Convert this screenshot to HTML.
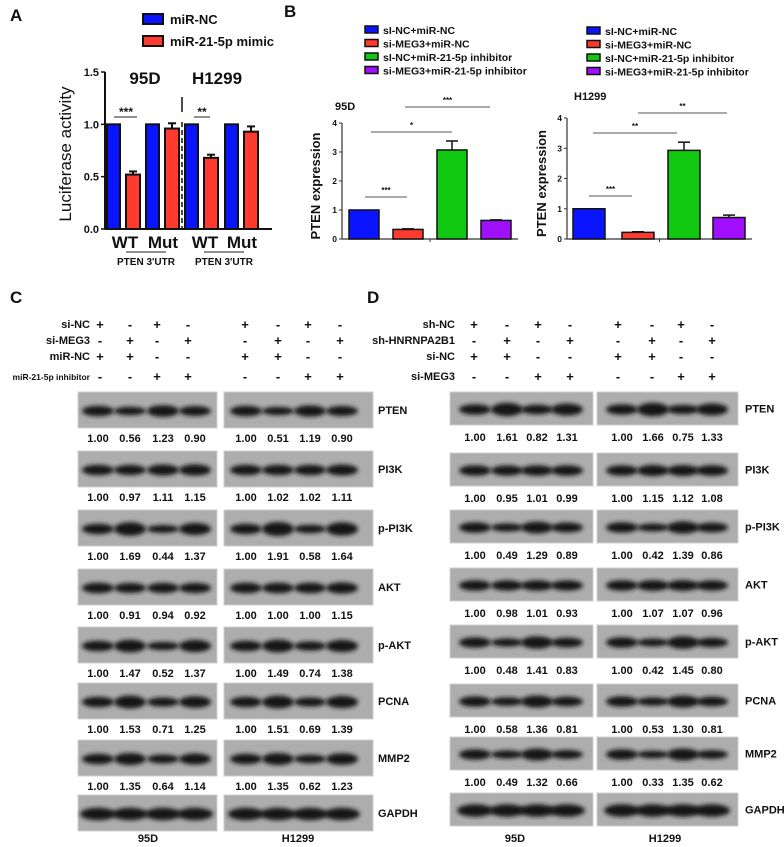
<!DOCTYPE html>
<html><head><meta charset="utf-8"><style>
html,body{margin:0;padding:0;background:#fff;}
svg{display:block;font-family:"Liberation Sans",Arial,sans-serif;}
.b{font-weight:bold;}
</style></head><body>
<svg id="fig" width="784" height="847" viewBox="0 0 784 847">
<defs>
<filter id="blur" x="-30%" y="-80%" width="160%" height="260%"><feGaussianBlur stdDeviation="2.0"/></filter>
</defs>
<g id="panelA"></g>
<g id="panelB"></g>
<g id="panelC"></g>
<g id="panelD"></g>
</svg>
<script>
// ---------- Panel A data ----------
const aGroups = ["95D WT","95D Mut","H1299 WT","H1299 Mut"];
const aNC = [1.0, 1.0, 1.0, 1.0];
const aMimic = [0.52, 0.96, 0.68, 0.93];
const aMimicErr = [0.03, 0.05, 0.03, 0.05];
const aNCErr = [0, 0, 0, 0];
const aTicks = [0.0, 0.5, 1.0, 1.5];
const aTickLabels = ["0.0","0.5","1.0","1.5"];

// ---------- Panel B data ----------
const bSeries = ["sI-NC+miR-NC","si-MEG3+miR-NC","sI-NC+miR-21-5p inhibitor","si-MEG3+miR-21-5p inhibitor"];
const b95D = [1.0, 0.33, 3.07, 0.64];
const b95DErr = [0, 0.02, 0.31, 0.02];
const bH1299 = [1.0, 0.22, 2.93, 0.71];
const bH1299Err = [0, 0.02, 0.27, 0.08];
const bTicks = [0,1,2,3,4];
const bTickLabels = ["0","1","2","3","4"];

// ---------- Panel C / D densitometry ----------
const proteins = ["PTEN","PI3K","p-PI3K","AKT","p-AKT","PCNA","MMP2","GAPDH"];
const c95D = [[1.00,0.56,1.23,0.90],[1.00,0.97,1.11,1.15],[1.00,1.69,0.44,1.37],[1.00,0.91,0.94,0.92],[1.00,1.47,0.52,1.37],[1.00,1.53,0.71,1.25],[1.00,1.35,0.64,1.14],[1,1,1,1]];
const cH1299 = [[1.00,0.51,1.19,0.90],[1.00,1.02,1.02,1.11],[1.00,1.91,0.58,1.64],[1.00,1.00,1.00,1.15],[1.00,1.49,0.74,1.38],[1.00,1.51,0.69,1.39],[1.00,1.35,0.62,1.23],[1,1,1,1]];
const d95D = [[1.00,1.61,0.82,1.31],[1.00,0.95,1.01,0.99],[1.00,0.49,1.29,0.89],[1.00,0.98,1.01,0.93],[1.00,0.48,1.41,0.83],[1.00,0.58,1.36,0.81],[1.00,0.49,1.32,0.66],[1,1,1,1]];
const dH1299 = [[1.00,1.66,0.75,1.33],[1.00,1.15,1.12,1.08],[1.00,0.42,1.39,0.86],[1.00,1.07,1.07,0.96],[1.00,0.42,1.45,0.80],[1.00,0.53,1.30,0.81],[1.00,0.33,1.35,0.62],[1,1,1,1]];
const cRowLabels = ["si-NC","si-MEG3","miR-NC","miR-21-5p inhibitor"];
const cSigns = [["+","-","+","-"],["-","+","-","+"],["+","+","-","-"],["-","-","+","+"]];
const dRowLabels = ["sh-NC","sh-HNRNPA2B1","si-NC","si-MEG3"];
const dSigns = [["+","-","+","-"],["-","+","-","+"],["+","+","-","-"],["-","-","+","+"]];

const NS="http://www.w3.org/2000/svg";
function mk(parent, tag, attrs, text){
  const e=document.createElementNS(NS,tag);
  for(const k in attrs) e.setAttribute(k,attrs[k]);
  if(text!==undefined) e.textContent=text;
  parent.appendChild(e); return e;
}
function txt(parent,x,y,s,size,opts){
  opts=opts||{};
  const t=mk(parent,"text",{x:x,y:y,"font-size":size,"text-anchor":opts.anchor||"start","font-weight":opts.bold===false?"normal":"bold",fill:"#111"},s);
  if(opts.rot) t.setAttribute("transform","rotate(-90 "+x+" "+y+")");
  return t;
}

// ================= PANEL A =================
(function(){
  const g=document.getElementById("panelA");
  let t=txt(g,10,21,"A",17);
  
  
  const leg=[["miR-NC","#0a14ff"],["miR-21-5p mimic","#ff3b2f"]];
  leg.forEach((l,i)=>{
    const r=mk(g,"rect",{x:143,y:14+i*22,width:20,height:10,fill:l[1],stroke:"#111","stroke-width":2});
    
    
    const tt=txt(g,170,24+i*22,l[0],13);
    
    
  });
  const x0=105, x1=272, yTop=72, yBot=229;
  const y=v=>yBot-(v/1.5)*(yBot-yTop);
  mk(g,"line",{x1:x0,y1:yTop,x2:x0,y2:yBot,stroke:"#111","stroke-width":2});
  mk(g,"line",{x1:x0,y1:yBot,x2:x1,y2:yBot,stroke:"#111","stroke-width":2});
  aTicks.forEach((v,i)=>{
    mk(g,"line",{x1:x0-4,y1:y(v),x2:x0,y2:y(v),stroke:"#111","stroke-width":1.5});
    const tl=txt(g,x0-6,y(v)+4,aTickLabels[i],11,{anchor:"end"});
    
    
  });
  const yt=txt(g,71,154,"Luciferase activity",17,{anchor:"middle",rot:true,bold:false});
  
  
  const groupX=[107,146,185,225];
  aGroups.forEach((name,i)=>{
    const bx=groupX[i];
    const b1=mk(g,"rect",{x:bx,y:y(aNC[i]),width:13,height:yBot-y(aNC[i]),fill:"#0a14ff",stroke:"#111","stroke-width":2});
    
    
    const rx=bx+19;
    const b2=mk(g,"rect",{x:rx,y:y(aMimic[i]),width:14,height:yBot-y(aMimic[i]),fill:"#ff3b2f",stroke:"#111","stroke-width":2});
    
    
    const ey=y(aMimic[i]+aMimicErr[i]);
    mk(g,"line",{x1:rx+7,y1:ey,x2:rx+7,y2:y(aMimic[i]),stroke:"#111","stroke-width":2});
    mk(g,"line",{x1:rx+3,y1:ey,x2:rx+11,y2:ey,stroke:"#111","stroke-width":2});
  });
  mk(g,"line",{x1:182,y1:97,x2:182,y2:112,stroke:"#111","stroke-width":1.5});
  mk(g,"line",{x1:182,y1:122,x2:182,y2:229,stroke:"#111","stroke-width":1.5,"stroke-dasharray":"5,3"});
  txt(g,145,84,"95D",17,{anchor:"middle"});
  txt(g,217,84,"H1299",17,{anchor:"middle"});
  mk(g,"line",{x1:114,y1:117,x2:137,y2:117,stroke:"#222","stroke-width":1});
  txt(g,126,116,"***",12,{anchor:"middle"});
  mk(g,"line",{x1:194,y1:117,x2:210,y2:117,stroke:"#222","stroke-width":1});
  txt(g,202,116,"**",12,{anchor:"middle"});
  [[125,163,146,"PTEN 3'UTR"],[205,242,224,"PTEN 3'UTR"]].forEach(a=>{
    txt(g,a[0],248,"WT",17,{anchor:"middle"});
    txt(g,a[1],248,"Mut",17,{anchor:"middle"});
    mk(g,"line",{x1:a[2]-20,y1:252,x2:a[2]+20,y2:252,stroke:"#222","stroke-width":1});
    txt(g,a[2],265,a[3],10,{anchor:"middle"});
  });
})();

// ================= PANEL B =================
(function(){
  const g=document.getElementById("panelB");
  const t=txt(g,284,17,"B",17);
  
  
  const cols=["#0a14ff","#ff3b2f","#10c810","#a010ff"];
  function legend(sx,sy){
    bSeries.forEach((s,i)=>{
      const r=mk(g,"rect",{x:sx,y:sy+i*13.5-4,width:13,height:7,fill:cols[i],stroke:"#111","stroke-width":1.5});
      
      
      const tt=txt(g,sx+18,sy+i*13.5+4,s,10.5);
      
      
    });
  }
  legend(365,30); legend(587,31);
  function chart(x0,x1,yTop,yBot,vals,errs,barX,bw,title,tx,ty,sig,ytx){
    const y=v=>yBot-(v/4)*(yBot-yTop);
    mk(g,"line",{x1:x0,y1:yTop,x2:x0,y2:yBot,stroke:"#333","stroke-width":1.2});
    mk(g,"line",{x1:x0,y1:yBot,x2:x1,y2:yBot,stroke:"#333","stroke-width":1.2});
    mk(g,"line",{x1:(x0+x1)/2,y1:yBot,x2:(x0+x1)/2,y2:yBot+3,stroke:"#333","stroke-width":1});
    bTicks.forEach((v,i)=>{
      mk(g,"line",{x1:x0-3,y1:y(v),x2:x0,y2:y(v),stroke:"#333","stroke-width":1});
      const tl=txt(g,x0-5,y(v)+3,bTickLabels[i],8.5,{anchor:"end"});
      
      
    });
    const yt=txt(g,ytx,(yTop+yBot)/2+5,"PTEN expression",13,{anchor:"middle",rot:true});
    
    
    vals.forEach((v,i)=>{
      const bx=barX[i];
      const r=mk(g,"rect",{x:bx,y:y(v),width:bw,height:yBot-y(v),fill:cols[i],stroke:"#111","stroke-width":1.5});
      
      
      if(errs[i]>0){
        const ey=y(v+errs[i]);
        mk(g,"line",{x1:bx+bw/2,y1:ey,x2:bx+bw/2,y2:y(v),stroke:"#111","stroke-width":1.5});
        mk(g,"line",{x1:bx+bw/2-6,y1:ey,x2:bx+bw/2+6,y2:ey,stroke:"#111","stroke-width":1.5});
      }
    });
    const tt=txt(g,tx,ty,title,11);
    
    
    sig.forEach(s=>{
      mk(g,"line",{x1:s[0],y1:s[2],x2:s[1],y2:s[2],stroke:"#555","stroke-width":1});
      txt(g,(s[0]+s[1])/2,s[2]-4,s[3],8,{anchor:"middle"});
    });
  }
  chart(342,518,123,239,b95D,b95DErr,[349,393,437,481],30,"95D",335,110,
    [[365,407,197,"***"],[371,452,132,"*"],[405,490,107,"***"]],320);
  chart(567,752,118,239,bH1299,bH1299Err,[573,622,668,713],32,"H1299",574,100,
    [[589,632,196,"***"],[593,677,133,"**"],[638,727,113,"**"]],546);
})();

// ================= BLOTS =================
function blotPanel(g,letter,lx,rowLabels,signs,labelX,signCols,blots,rows,rowH,numOffset,labelXR,bottomLabels,headerY){
  const t=txt(g,lx,303,letter,17);
  
  
  rowLabels.forEach((lab,r)=>{
    const rl=txt(g,labelX,headerY[r],lab,lab.indexOf("inhibitor")>=0?8.5:11,{anchor:"end"});
    
    
    signCols.forEach(cols=>{
      cols.forEach((cx,i)=>{
        txt(g,cx,headerY[r]+1,signs[r][i],13,{anchor:"middle"});
      });
    });
  });
  blots.forEach(bl=>{
    proteins.forEach((p,ri)=>{
      const top=rows[ri];
      const bg=mk(g,"rect",{x:bl.x,y:top,width:bl.w,height:rowH,fill:"#adadad",stroke:"#cfcfcf","stroke-width":1});
      
      
      bl.cols.forEach((cx,i)=>{
        const v=bl.vals[ri][i];
        const h=Math.max(5,Math.min(14,4.5*v+(p==="GAPDH"?8:6)));
        const w=p==="GAPDH"?36:32;
        const band=mk(g,"ellipse",{cx:cx,cy:top+rowH/2+1,rx:w/2,ry:h/2,fill:"#141414",filter:"url(#blur)"});
        
        
      });
      if(ri<proteins.length-1){
        bl.cols.forEach((cx,i)=>{
          const n=txt(g,cx,top+numOffset,bl.vals[ri][i].toFixed(2),11,{anchor:"middle"});
          
          
        });
      }
    });
  });
  proteins.forEach((p,ri)=>{
    const pl=txt(g,labelXR,rows[ri]+rowH/2+4,p,11);
    
    
  });
  bottomLabels.forEach(b=>{
    const bl=txt(g,b[0],842,b[1],11,{anchor:"middle"});
    
    
  });
}
(function(){
  const g=document.getElementById("panelC");
  const lc=[98,130,163,195], rc=[246,278,310,342];
  blotPanel(g,"C",10,cRowLabels,cSigns,90,[[100,130,157,188],[245,278,308,340]],
    [{x:78,w:139,cols:lc,vals:c95D},{x:224,w:149,cols:rc,vals:cH1299}],
    [392,451,510,569,627,683,740,795],36,50,378,[[148,"95D"],[298,"H1299"]],[328,344,360,380]);
})();
(function(){
  const g=document.getElementById("panelD");
  const lc=[475,507,537,567], rc=[622,653,683,712];
  blotPanel(g,"D",367,dRowLabels,dSigns,455,[[474,507,538,570],[618,652,681,712]],
    [{x:450,w:143,cols:lc,vals:d95D},{x:597,w:141,cols:rc,vals:dH1299}],
    [392,453,510,568,625,684,737,793],33,49,745,[[515,"95D"],[665,"H1299"]],[328,344,360,380]);
})();
</script>
</body></html>
